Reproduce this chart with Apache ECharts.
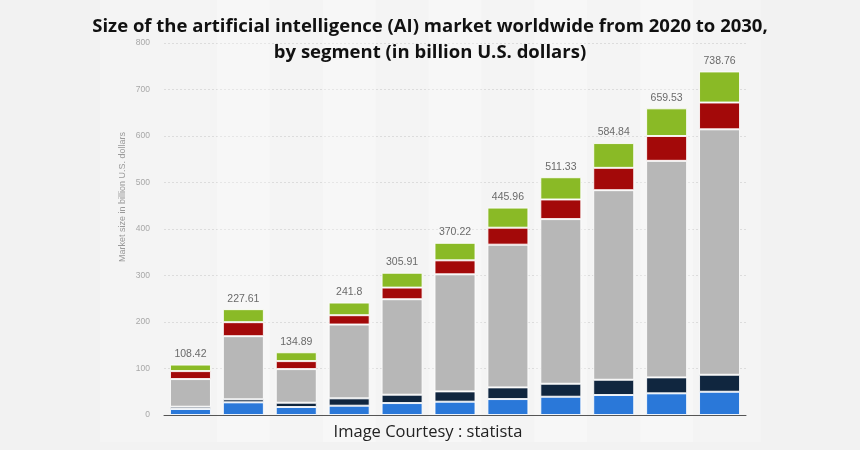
<!DOCTYPE html>
<html>
<head>
<meta charset="utf-8">
<script src="https://cdn.jsdelivr.net/npm/echarts@6/dist/echarts.min.js"></script>
<style>
html,body{margin:0;padding:0;background:#f2f2f2;}
#c{width:860px;height:450px;}
</style>
</head>
<body>
<div id="c"></div>
<script>
var years = ['2020','2021','2022','2023','2024','2025','2026','2027','2028','2029','2030'];
var computerVision = [12.9, 27.2, 17.2, 20.0, 25.7, 28.6, 34.3, 39.3, 43.0, 46.6, 50.0];
var aiRobotics = [4.9, 6.5, 9.2, 15.8, 17.9, 22.2, 25.1, 27.9, 32.8, 34.3, 36.5];
var machineLearning = [59.5, 135.8, 72.3, 158.8, 205.4, 251.8, 306.9, 354.1, 407.7, 465.7, 527.9];
var naturalLanguage = [17.1, 30.1, 17.2, 20.0, 25.0, 30.0, 36.5, 42.2, 48.0, 53.4, 57.6];
var autonomousSensor = [14.0, 28.0, 19.0, 27.2, 31.9, 37.6, 43.2, 47.8, 53.3, 59.5, 66.8];
var totals = [108.42, 227.61, 134.89, 241.8, 305.91, 370.22, 445.96, 511.33, 584.84, 659.53, 738.76];
var yTicks = [0, 100, 200, 300, 400, 500, 600, 700, 800];

var chart = echarts.init(document.getElementById('c'), null, {renderer:'canvas'});
var border = {borderColor:'rgba(255,255,255,0.85)', borderWidth:1};
function seg(name, data, color, withLabel){
  var s = {
    name:name, type:'bar', stack:'total', data:data, barWidth:41,
    xAxisIndex:0, yAxisIndex:0,
    itemStyle:Object.assign({color:color}, border),
    emphasis:{disabled:true}
  };
  if (withLabel){
    s.label = {show:true, position:'top', distance:5, color:'#6a6a6a',
      fontFamily:'Liberation Sans, Arial, sans-serif', fontSize:10.5,
      formatter:function(p){return String(totals[p.dataIndex]);}};
  }
  return s;
}
var option = {
  animation:false,
  backgroundColor:'transparent',
  title:{
    text:'Size of the artificial intelligence (AI) market worldwide from 2020 to 2030,\nby segment (in billion U.S. dollars)',
    left:'center', top:9,
    textStyle:{fontFamily:'Open Sans, sans-serif', fontWeight:'bold', fontSize:18.5, color:'#111', lineHeight:26}
  },
  graphic:[
    {type:'rect', z:-10, shape:{x:100,y:0,width:661,height:442}, style:{fill:'#f4f4f4'}},
    {type:'text', z:5, x:123, y:197, rotation:Math.PI/2,
      style:{text:'Market size in billion U.S. dollars', fill:'#9a9a9a', font:'9px Liberation Sans, Arial, sans-serif', textAlign:'center', textVerticalAlign:'middle'}},
    {type:'text', z:5, x:428, y:432,
      style:{text:'Image Courtesy : statista', fill:'#222', font:'16.5px Open Sans, sans-serif', textAlign:'center', textVerticalAlign:'middle'}}
  ],
  grid:[
    {left:164, right:114, top:43, bottom:35},
    {left:164, right:114, top:0, bottom:8, z:-5}
  ],
  xAxis:[
    {type:'category', gridIndex:0, data:years, boundaryGap:true,
      axisLine:{show:true, lineStyle:{color:'#555', width:1}},
      axisTick:{show:false}, axisLabel:{show:false}, splitLine:{show:false}},
    {type:'category', gridIndex:1, data:years, boundaryGap:true,
      axisLine:{show:false}, axisTick:{show:false}, axisLabel:{show:false},
      splitArea:{show:true, areaStyle:{color:['rgba(0,0,0,0)','rgba(255,255,255,0.3)']}}}
  ],
  yAxis:[
    {type:'value', gridIndex:0, min:0, max:800, interval:100,
      axisLine:{show:false}, axisTick:{show:false},
      axisLabel:{color:'#a8a8a8', fontSize:8.5, margin:14, fontFamily:'Liberation Sans, Arial, sans-serif',
        formatter:function(v){return yTicks.indexOf(v)>=0 ? String(v) : '';}},
      splitLine:{show:true, lineStyle:{color:'#dcdcdc', type:[2,2], width:1}}},
    {type:'value', gridIndex:1, show:false, min:0, max:1}
  ],
  series:[
    seg('Computer Vision', computerVision, '#2a78d9', false),
    seg('AI Robotics', aiRobotics, '#10263f', false),
    seg('Machine Learning', machineLearning, '#b7b7b7', false),
    seg('Natural Language Processing', naturalLanguage, '#a30909', false),
    seg('Autonomous & Sensor Technology', autonomousSensor, '#8aba26', true)
  ]
};
chart.setOption(option);
</script>
</body>
</html>
